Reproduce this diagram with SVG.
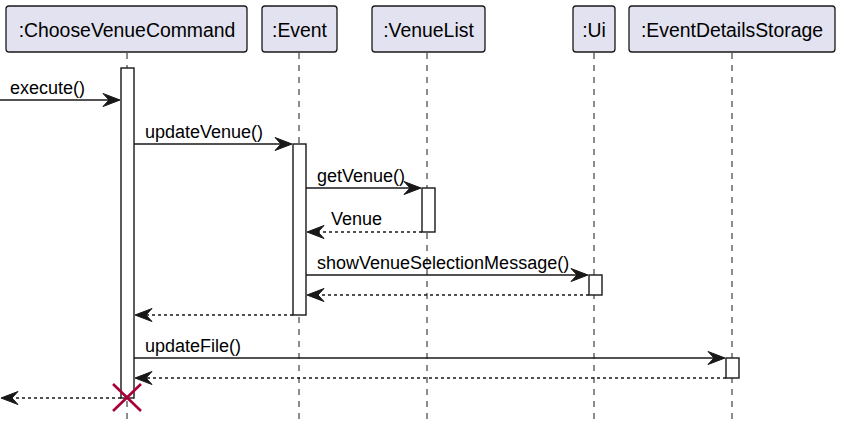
<svg xmlns="http://www.w3.org/2000/svg" width="842" height="431" viewBox="0 0 842 431">
<style>
.box{fill:#E2E2F0;stroke:#181818;stroke-width:1.3}
.pt{font-family:"Liberation Sans",Arial,sans-serif;font-size:19.4px;fill:#000;text-anchor:middle}
.life{stroke:#181818;stroke-width:1;stroke-dasharray:6,6;fill:none}
.act{fill:#FFFFFF;stroke:#181818;stroke-width:1.4}
.msg{stroke:#181818;stroke-width:1.4;fill:none}
.ret{stroke:#181818;stroke-width:1.4;fill:none;stroke-dasharray:3,3}
.mt{font-family:"Liberation Sans",Arial,sans-serif;font-size:18px;fill:#000}
.ah{fill:#181818;stroke:#181818;stroke-width:1}
</style>
<defs>
<polygon id="ar" points="0,0 -17,-6.5 -11,0 -17,6.5"/>
<polygon id="al" points="0,0 17,-6.5 11,0 17,6.5"/>
</defs>
<g id="lifelines">
<line class="life" x1="127" y1="53" x2="127" y2="425"/>
<line class="life" x1="299" y1="53" x2="299" y2="425"/>
<line class="life" x1="427" y1="53" x2="427" y2="425"/>
<line class="life" x1="594" y1="53" x2="594" y2="425"/>
<line class="life" x1="732" y1="53" x2="732" y2="425"/>
</g>
<g id="p-choose"><rect class="box" x="6" y="6" width="241" height="46" rx="3"/><text class="pt" x="127" y="36.5">:ChooseVenueCommand</text></g>
<g id="p-event"><rect class="box" x="262" y="6" width="75" height="46" rx="3"/><text class="pt" x="299.5" y="36.5">:Event</text></g>
<g id="p-venuelist"><rect class="box" x="372" y="6" width="113" height="46" rx="3"/><text class="pt" x="428.5" y="36.5">:VenueList</text></g>
<g id="p-ui"><rect class="box" x="573" y="6" width="42" height="46" rx="3"/><text class="pt" x="594" y="36.5">:Ui</text></g>
<g id="p-storage"><rect class="box" x="629" y="6" width="206" height="46" rx="3"/><text class="pt" x="732" y="36.5">:EventDetailsStorage</text></g>
<g id="activations">
<rect class="act" x="121" y="68" width="13" height="330"/>
<rect class="act" x="293" y="144" width="13" height="171"/>
<rect class="act" x="422" y="188" width="13" height="44"/>
<rect class="act" x="589" y="275" width="13" height="20"/>
<rect class="act" x="726" y="358" width="13" height="20"/>
</g>
<g id="connectors">
<line class="msg" x1="0" y1="100" x2="119" y2="100"/><use href="#ar" class="ah" x="120" y="100"/>
<text class="mt" x="10" y="94">execute()</text>
<line class="msg" x1="134" y1="144" x2="291" y2="144"/><use href="#ar" class="ah" x="292" y="144"/>
<text class="mt" x="145" y="138">updateVenue()</text>
<line class="msg" x1="306" y1="188" x2="420" y2="188"/><use href="#ar" class="ah" x="421" y="188"/>
<text class="mt" x="317" y="182">getVenue()</text>
<line class="ret" x1="422" y1="232" x2="308" y2="232"/><use href="#al" class="ah" x="307" y="232"/>
<text class="mt" x="331" y="225">Venue</text>
<line class="msg" x1="306" y1="275" x2="587" y2="275"/><use href="#ar" class="ah" x="588" y="275"/>
<text class="mt" x="317" y="269">showVenueSelectionMessage()</text>
<line class="ret" x1="589" y1="295" x2="308" y2="295"/><use href="#al" class="ah" x="307" y="295"/>
<line class="ret" x1="293" y1="315" x2="136" y2="315"/><use href="#al" class="ah" x="135" y="315"/>
<line class="msg" x1="134" y1="358" x2="724" y2="358"/><use href="#ar" class="ah" x="725" y="358"/>
<text class="mt" x="145" y="352">updateFile()</text>
<line class="ret" x1="726" y1="378" x2="136" y2="378"/><use href="#al" class="ah" x="135" y="378"/>
<line class="ret" x1="121" y1="398" x2="2" y2="398"/><use href="#al" class="ah" x="1" y="398"/>
</g>
<g id="destroy" stroke="#A80036" stroke-width="2.6">
<line x1="113" y1="384" x2="141" y2="411"/>
<line x1="141" y1="384" x2="113" y2="411"/>
</g>
</svg>
